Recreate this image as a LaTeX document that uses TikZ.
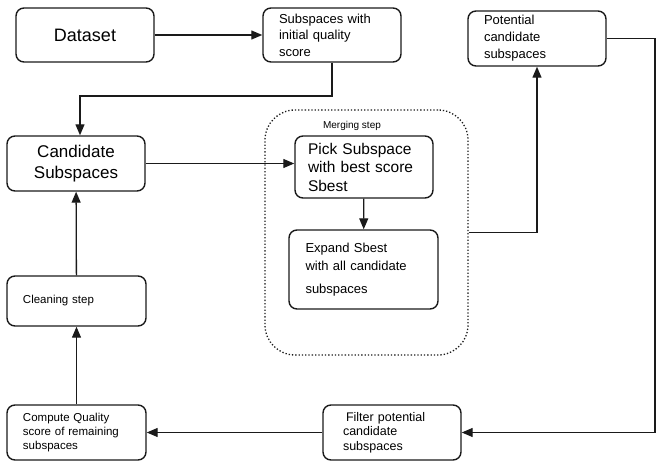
\documentclass[tikz,border=0pt]{standalone}
\usepackage{fontspec}
\setmainfont{Liberation Sans}
\usetikzlibrary{arrows.meta}
\definecolor{flowline}{HTML}{1A1A1A}

\begin{document}
\begin{tikzpicture}[x=1pt,y=-1pt,
    stage/.style={draw=flowline,line width=1.4pt,rounded corners=8pt,
      inner xsep=0pt,inner ysep=0pt},
    flow/.style={draw=flowline,line width=1.3pt,-{Triangle[length=11pt,width=9pt]}},
    plain/.style={draw=flowline,line width=1.3pt}]
  \useasboundingbox (0,0) rectangle (665,468);

  % top row
  \node[stage,minimum width=138,minimum height=54,font=\fontsize{18}{22}\selectfont]
    (dataset) at (85,35) {Dataset};
  \node[stage,minimum width=138,minimum height=54,align=left,text width=106,
    font=\fontsize{13}{16.5}\selectfont] (initial) at (332,35)
    {Subspaces with\\initial quality\\score};
  \node[stage,minimum width=138,minimum height=55,align=left,text width=106,
    font=\fontsize{13}{17}\selectfont] (potential) at (537,38.5)
    {Potential\\candidate\\subspaces};

  % left column
  \node[stage,minimum width=138,minimum height=55,align=center,
    font=\fontsize{17}{21}\selectfont] (candidate) at (76,163.5)
    {Candidate\\Subspaces};
  \node[stage,minimum width=139,minimum height=50,align=left,text width=107,
    font=\fontsize{11.5}{14}\selectfont] (cleaning) at (76.5,301)
    {Cleaning step};
  \node[stage,minimum width=139,minimum height=55,align=left,text width=107,
    font=\fontsize{11.5}{14}\selectfont] (compute) at (76.5,432.5)
    {Compute Quality\\score of remaining\\subspaces};
  \node[stage,minimum width=138,minimum height=55,align=left,text width=98,
    font=\fontsize{12.5}{14.5}\selectfont] (filter) at (392,432.5)
    {\hspace{3pt}Filter potential\\candidate\\subspaces};

  % merging step
  \node[draw=flowline,line width=1.3pt,dotted,rounded corners=30pt,
    minimum width=203,minimum height=245] (merge) at (366.5,232.5) {};
  \node[font=\fontsize{10}{12}\selectfont] (mergelabel) at (352,126) {Merging step};
  \node[stage,minimum width=138,minimum height=62,align=left,text width=112,
    font=\fontsize{15.5}{18.5}\selectfont] (pick) at (364,167)
    {Pick Subspace\\with best score\\Sbest};
  \node[stage,minimum width=149,minimum height=79,align=left,text width=116,
    font=\fontsize{13}{18}\selectfont] (expand) at (363.5,269.5)
    {Expand Sbest\\with all candidate\\[5pt]subspaces};

  \coordinate (bend) at (80,96);
  \coordinate (rtop) at (655,38.5);
  \coordinate (rbot) at (655,432.5);

  \draw[flow] (dataset) -- (initial);
  \draw[flow] (initial.south) |- (bend) -- (bend |- candidate.north);
  \draw[flow] (candidate.east) -- (pick.west |- candidate.east);
  \draw[flow] (pick) -- (expand);
  \draw[flow] (merge.east) -| (potential.south);
  \draw[plain] (potential.east) -- (rtop) -- (rbot);
  \draw[flow] (rbot) -- (filter.east);
  \draw[flow] (filter) -- (compute);
  \draw[flow] (compute) -- (cleaning);
  \draw[flow] (cleaning) -- (candidate);
\end{tikzpicture}
\end{document}
